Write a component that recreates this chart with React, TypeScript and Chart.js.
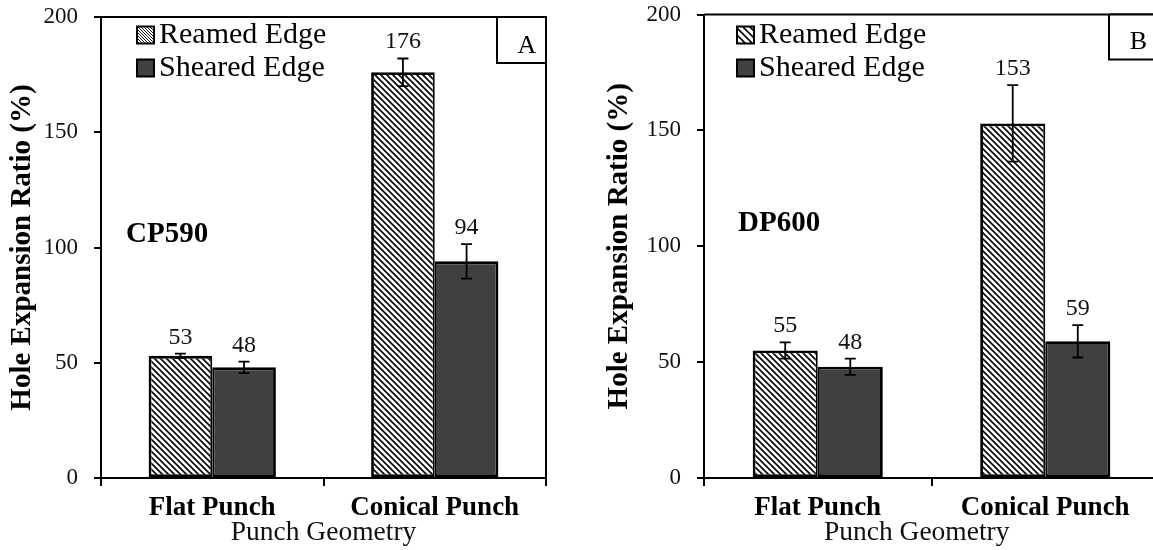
import React, { useEffect, useRef } from 'react';
import { Chart, registerables } from 'chart.js';

Chart.register(...registerables);

// ---------- data ----------
const categories = ['Flat Punch', 'Conical Punch'];
const seriesNames = ['Reamed Edge', 'Sheared Edge'];
const yTickValues = [0, 50, 100, 150, 200];

const cp590Reamed = [53, 176];
const cp590Sheared = [48, 94];
const cp590ReamedErr = [1, 6];
const cp590ShearedErr = [2.5, 7.5];

const dp600Reamed = [55, 153];
const dp600Sheared = [48, 59];
const dp600ReamedErr = [3.5, 16.5];
const dp600ShearedErr = [3.5, 7];

const FONT = "'Liberation Serif', 'Times New Roman', serif";

type PanelCfg = {
  material: string;
  letter: string;
  reamed: number[];
  sheared: number[];
  reamedErr: number[];
  shearedErr: number[];
  canvasLeft: number;
  canvasW: number;
  plotLeft: number;
  plotRight: number;
  plotTop: number;
  plotBottom: number;
  yTitleX: number;
  xTitleX: number;
  matX: number;
  matY: number;
  letterX: number;
  letterY: number;
  boxLeft: number;
  boxH: number;
  legendX: number;
  legendHatch: number;
};

const panelA: PanelCfg = {
  material: 'CP590',
  letter: 'A',
  reamed: cp590Reamed,
  sheared: cp590Sheared,
  reamedErr: cp590ReamedErr,
  shearedErr: cp590ShearedErr,
  canvasLeft: 0,
  canvasW: 576,
  plotLeft: 101,
  plotRight: 546,
  plotTop: 17,
  plotBottom: 478,
  yTitleX: 23,
  xTitleX: 323.5,
  matX: 126,
  matY: 242,
  letterX: 527,
  letterY: 53,
  boxLeft: 497,
  boxH: 46,
  legendX: 137,
  legendHatch: 3,
};

const panelB: PanelCfg = {
  material: 'DP600',
  letter: 'B',
  reamed: dp600Reamed,
  sheared: dp600Sheared,
  reamedErr: dp600ReamedErr,
  shearedErr: dp600ShearedErr,
  canvasLeft: 576,
  canvasW: 600,
  plotLeft: 128,
  plotRight: 583,
  plotTop: 14.5,
  plotBottom: 478,
  yTitleX: 44,
  xTitleX: 340.7,
  matX: 162,
  matY: 231,
  letterX: 562.3,
  letterY: 48.5,
  boxLeft: 533,
  boxH: 45,
  legendX: 161,
  legendHatch: 7,
};

function makeHatch(ctx: CanvasRenderingContext2D, size: number, lw: number) {
  const c = document.createElement('canvas');
  c.width = size;
  c.height = size;
  const g = c.getContext('2d')!;
  g.fillStyle = '#fff';
  g.fillRect(0, 0, size, size);
  g.strokeStyle = '#000';
  g.lineWidth = lw;
  g.beginPath();
  for (const k of [-size, 0, size]) {
    g.moveTo(-size, -size + k);
    g.lineTo(2 * size, 2 * size + k);
  }
  g.stroke();
  return ctx.createPattern(c, 'repeat')!;
}

function Panel({ cfg }: { cfg: PanelCfg }) {
  const ref = useRef<HTMLCanvasElement>(null);

  useEffect(() => {
    const canvas = ref.current!;
    const ctx0 = canvas.getContext('2d')!;
    const hatch = makeHatch(ctx0, 6, 1.6);
    const legendHatch = makeHatch(ctx0, cfg.legendHatch, cfg.legendHatch > 4 ? 1.6 : 0.9);
    const errs = [cfg.reamedErr, cfg.shearedErr];
    const vals = [cfg.reamed, cfg.sheared];

    const decor = {
      id: 'decor',
      afterDatasetsDraw(chart: any) {
        const ctx = chart.ctx as CanvasRenderingContext2D;
        const y = chart.scales.y;
        ctx.save();
        ctx.strokeStyle = '#000';
        ctx.lineWidth = 1.8;
        ctx.fillStyle = '#111';
        ctx.font = `24px ${FONT}`;
        ctx.textAlign = 'center';
        ctx.textBaseline = 'alphabetic';
        for (let di = 0; di < 2; di++) {
          const meta = chart.getDatasetMeta(di);
          meta.data.forEach((bar: any, i: number) => {
            const v = vals[di][i];
            const e = errs[di][i];
            const yHi = y.getPixelForValue(v + e);
            const yLo = y.getPixelForValue(v - e);
            const x = bar.x;
            ctx.beginPath();
            ctx.moveTo(x, yHi);
            ctx.lineTo(x, yLo);
            ctx.moveTo(x - 5.5, yHi);
            ctx.lineTo(x + 5.5, yHi);
            ctx.moveTo(x - 5.5, yLo);
            ctx.lineTo(x + 5.5, yLo);
            ctx.stroke();
            ctx.fillText(String(v), x, yHi - 10);
          });
        }
        ctx.restore();
      },
      afterDraw(chart: any) {
        const ctx = chart.ctx as CanvasRenderingContext2D;
        const { left, right, top, bottom } = chart.chartArea;
        ctx.save();
        // frame top & right
        ctx.strokeStyle = '#000';
        ctx.lineWidth = 2;
        ctx.beginPath();
        ctx.moveTo(left, top);
        ctx.lineTo(right, top);
        ctx.moveTo(right, top);
        ctx.lineTo(right, bottom);
        ctx.stroke();

        // letter box
        ctx.fillStyle = '#fff';
        ctx.fillRect(cfg.boxLeft, top, right - cfg.boxLeft, cfg.boxH);
        ctx.strokeRect(cfg.boxLeft, top, right - cfg.boxLeft, cfg.boxH);
        ctx.fillStyle = '#000';
        ctx.font = `26px ${FONT}`;
        ctx.textAlign = 'center';
        ctx.textBaseline = 'alphabetic';
        ctx.fillText(cfg.letter, cfg.letterX, cfg.letterY);

        // legend
        const rows = [35, 68];
        for (let i = 0; i < 2; i++) {
          const ry = rows[i];
          ctx.fillStyle = i === 0 ? legendHatch : '#404040';
          ctx.fillRect(cfg.legendX, ry - 8.5, 17, 17);
          ctx.lineWidth = 2;
          ctx.strokeStyle = '#000';
          ctx.strokeRect(cfg.legendX, ry - 8.5, 17, 17);
          ctx.fillStyle = '#000';
          ctx.font = `30px ${FONT}`;
          ctx.textAlign = 'left';
          ctx.fillText(seriesNames[i], cfg.legendX + 22, ry + 8);
        }

        // material label
        ctx.font = `bold 29px ${FONT}`;
        ctx.textAlign = 'left';
        ctx.fillText(cfg.material, cfg.matX, cfg.matY);

        // x axis title
        ctx.font = `27.5px ${FONT}`;
        ctx.textAlign = 'center';
        ctx.fillStyle = '#111';
        ctx.fillText('Punch Geometry', cfg.xTitleX, 540);
        ctx.restore();
      },
    };

    const chart = new Chart(canvas, {
      type: 'bar',
      data: {
        labels: categories,
        datasets: [
          {
            label: seriesNames[0],
            data: cfg.reamed,
            backgroundColor: hatch as any,
            borderColor: '#000',
            borderWidth: { top: 2.8, left: 2.8, bottom: 2.8, right: 2 },
            borderSkipped: false,
            inflateAmount: 0,
            categoryPercentage: 0.572,
            barPercentage: 1,
          },
          {
            label: seriesNames[1],
            data: cfg.sheared,
            backgroundColor: '#404040',
            borderColor: '#000',
            borderWidth: { top: 2.8, left: 2, bottom: 2.8, right: 2.8 },
            borderSkipped: false,
            inflateAmount: 0,
            categoryPercentage: 0.572,
            barPercentage: 1,
          },
        ],
      },
      options: {
        responsive: false,
        animation: false,
        devicePixelRatio: 1,
        layout: {
          padding: { left: 0, right: cfg.canvasW - cfg.plotRight, top: cfg.plotTop, bottom: 0 },
        },
        plugins: {
          legend: { display: false },
          tooltip: { enabled: false },
          title: { display: false },
        },
        scales: {
          x: {
            type: 'category',
            offset: true,
            grid: {
              offset: true,
              drawOnChartArea: false,
              drawTicks: true,
              tickLength: 8,
              color: '#000',
              lineWidth: 2,
            },
            border: { display: true, color: '#000', width: 2 },
            ticks: {
              font: { family: FONT, size: 27, weight: 'bold' },
              color: '#000',
              padding: 6,
              maxRotation: 0,
              autoSkip: false,
            },
            afterFit: (s: any) => {
              s.height = 550 - cfg.plotBottom;
              s.paddingLeft = 0;
              s.paddingRight = 0;
            },
          },
          y: {
            min: 0,
            max: 200,
            afterBuildTicks: (s: any) => {
              s.ticks = yTickValues.map((v) => ({ value: v }));
            },
            grid: {
              drawOnChartArea: false,
              drawTicks: true,
              tickLength: 7,
              color: '#000',
              lineWidth: 2,
            },
            border: { display: true, color: '#000', width: 2 },
            ticks: {
              font: { family: FONT, size: 23 },
              color: '#111',
              padding: 16,
            },
            title: {
              display: true,
              text: 'Hole Expansion Ratio (%)',
              font: { family: FONT, size: 29, weight: 'bold' },
              color: '#000',
              padding: { top: cfg.yTitleX - 17.4, bottom: 0 },
            },
            afterFit: (s: any) => {
              s.width = cfg.plotLeft;
              s.paddingTop = 0;
              s.paddingBottom = 0;
            },
          },
        },
      } as any,
      plugins: [decor],
    });
    return () => chart.destroy();
  }, [cfg]);

  return (
    <canvas
      ref={ref}
      width={cfg.canvasW}
      height={550}
      style={{
        position: 'absolute',
        left: cfg.canvasLeft,
        top: 0,
        width: cfg.canvasW + 'px',
        height: '550px',
      }}
    />
  );
}

export default function App() {
  return (
    <div
      style={{
        position: 'fixed',
        left: 0,
        top: 0,
        width: 1153,
        height: 550,
        overflow: 'hidden',
        background: '#fff',
      }}
    >
      <Panel cfg={panelA} />
      <Panel cfg={panelB} />
    </div>
  );
}
